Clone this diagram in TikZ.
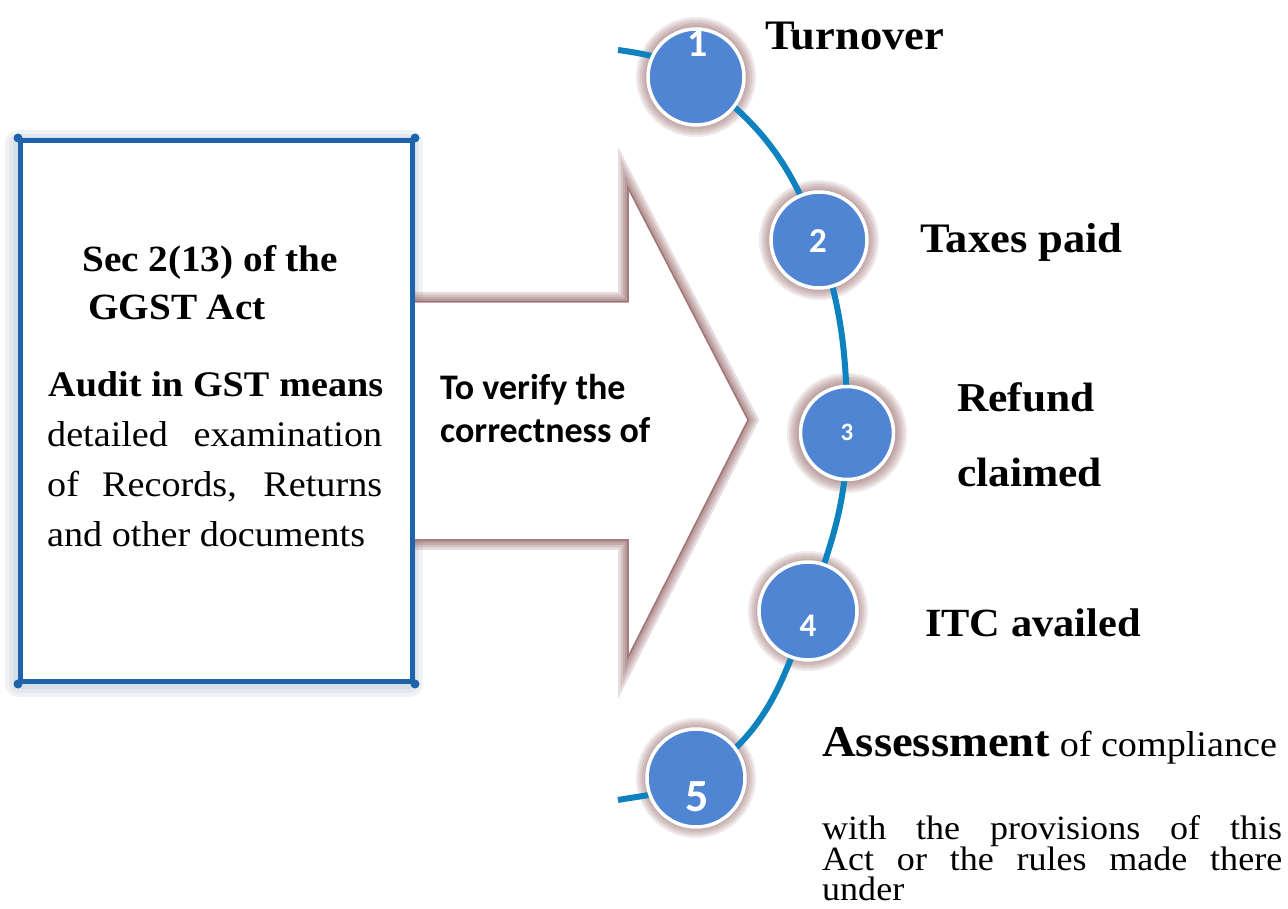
\documentclass[tikz,border=0pt]{standalone}
\usepackage{fontspec}
\setmainfont{Liberation Serif}[FakeStretch=1.06]
\newfontfamily\calib{Carlito}
\definecolor{boxblue}{RGB}{30,100,172}
\definecolor{boxglow}{RGB}{140,165,185}
\definecolor{arrglow}{RGB}{140,88,88}
\definecolor{circfill}{RGB}{79,133,210}
\definecolor{arcblue}{RGB}{14,130,190}
\tikzset{
  lbl/.style={anchor=base west, inner sep=0pt, font=\bfseries\fontsize{41}{41}\selectfont},
  boxbold/.style={anchor=base west, inner sep=0pt, font=\bfseries\fontsize{37}{37}\selectfont},
  boxreg/.style={anchor=base west, inner sep=0pt, font=\fontsize{36}{36}\selectfont},
  arrtext/.style={anchor=base west, inner sep=0pt, font=\calib\bfseries\fontsize{36}{36}\selectfont},
  numtxt/.style={inner sep=0pt, text=white, font=\calib\bfseries},
  bubble/.style={circle, fill=circfill, draw=white, line width=3.5pt, inner sep=0pt, minimum size=96pt},
  arcl/.style={draw=arcblue, line width=6pt},
}
\begin{document}
\begin{tikzpicture}[x=1pt,y=1pt]
\useasboundingbox (0,0) rectangle (1288,909);
\fill[white] (0,0) rectangle (1288,909);

% ---- box glow ----
\foreach \w in {26,18,11} {
  \draw[boxglow, opacity=0.13, line width=\w pt, line join=round] (18,225) rectangle (410,766);
}

% ---- arrow ----
\coordinate (a1) at (405,607);
\coordinate (a2) at (628,607);
\coordinate (a3) at (628,721);
\coordinate (a4) at (748,489);
\coordinate (a5) at (628,252);
\coordinate (a6) at (628,369);
\coordinate (a7) at (405,369);
\foreach \w in {20,15,10,6} {
  \draw[arrglow, opacity=0.2, line width=\w pt, line join=miter]
    (a1) -- (a2) -- (a3) -- (a4) -- (a5) -- (a6) -- (a7) -- cycle;
}
\fill[white] (a1) -- (a2) -- (a3) -- (a4) -- (a5) -- (a6) -- (a7) -- cycle;
\draw[arrglow, opacity=0.75, line width=1.5pt]
    (a1) -- (a2) -- (a3) -- (a4) -- (a5) -- (a6) -- (a7) -- cycle;

% ---- box ----
\node[draw=boxblue, fill=white, line width=5pt, minimum width=392pt, minimum height=541pt,
      inner sep=0pt, anchor=south west] (box) at (18,225) {};
\foreach \c in {north west, north east, south west, south east} {
  \fill[boxblue] (box.\c) circle (4.5pt);
}

\node[boxbold] (sec) at (82,637) {Sec 2(13) of the};
\node[boxbold] (ggst) at (88,589) {GGST Act};
\node[boxbold, font=\bfseries\fontsize{36}{36}\selectfont] (audit) at (48,512) {\makebox[335pt][s]{Audit in GST means}};
\node[boxreg] (bl1) at (47,462) {\makebox[335pt][s]{detailed examination}};
\node[boxreg] (bl2) at (47,412) {\makebox[335pt][s]{of Records, Returns}};
\node[boxreg] (bl3) at (47,362) {and other documents};

\node[arrtext] (v1) at (440,509) {To verify the};
\node[arrtext] (v2) at (440,466) {correctness of};

% ---- arc with bubbles ----
\coordinate (s) at (618,859);
\coordinate (p1) at (696,832);
\coordinate (p2) at (819,669);
\coordinate (p3) at (847,476);
\coordinate (p4) at (808,298);
\coordinate (p5) at (696,131);
\coordinate (e) at (618,109);

\foreach \p in {p1,p2,p3,p4,p5} {
  \foreach \k in {2,4,6,8,10,12} {
    \fill[arrglow, opacity=0.12] (\p) circle (48pt+\k pt);
  }
}

\draw[arcl] (s) to[out=-8,in=145] (p1) to[out=-35,in=110] (p2) to[out=-72,in=90] (p3)
  to[out=-90,in=71] (p4) to[out=-109,in=31] (p5) to[out=-149,in=10] (e);

\node[bubble] (c1) at (p1) {};
\node[bubble] (c2) at (p2) {};
\node[bubble, minimum size=93pt] (c3) at (p3) {};
\node[bubble, minimum size=98pt] (c4) at (p4) {};
\node[bubble, minimum size=98pt] (c5) at (p5) {};

\node[numtxt, font=\calib\bfseries\fontsize{40}{40}\selectfont] (n1) at (698,865) {1};
\node[numtxt, font=\calib\bfseries\fontsize{35}{35}\selectfont] (n2) at (818,668) {2};
\node[numtxt, font=\calib\bfseries\fontsize{25}{25}\selectfont] (n3) at (847,477) {3};
\node[numtxt, font=\calib\bfseries\fontsize{33}{33}\selectfont] (n4) at (808,283) {4};
\node[numtxt, font=\calib\bfseries\fontsize{46}{46}\selectfont] (n5) at (697,112) {5};

% ---- labels ----
\node[lbl, font=\bfseries\fontsize{42}{42}\selectfont] (t1) at (765,859) {Turnover};
\node[lbl, font=\bfseries\fontsize{42}{42}\selectfont] (t2) at (920,656) {Taxes paid};
\node[lbl] (t3a) at (957,497) {Refund};
\node[lbl] (t3b) at (957,422) {claimed};
\node[lbl, font=\bfseries\fontsize{40}{40}\selectfont] (t4) at (925,272) {ITC availed};
\node[anchor=base west, inner sep=0pt] (t5) at (822,152)
  {{\bfseries\fontsize{44}{44}\selectfont Assessment}{\fontsize{36}{36}\selectfont\ of compliance}};
\node[anchor=north west, inner sep=0pt, text width=460pt, align=justify,
      font=\fontsize{34}{30}\selectfont] (t5p) at (822,94)
  {with the provisions of this\linebreak Act or the rules made there\linebreak under};
\end{tikzpicture}
\end{document}
